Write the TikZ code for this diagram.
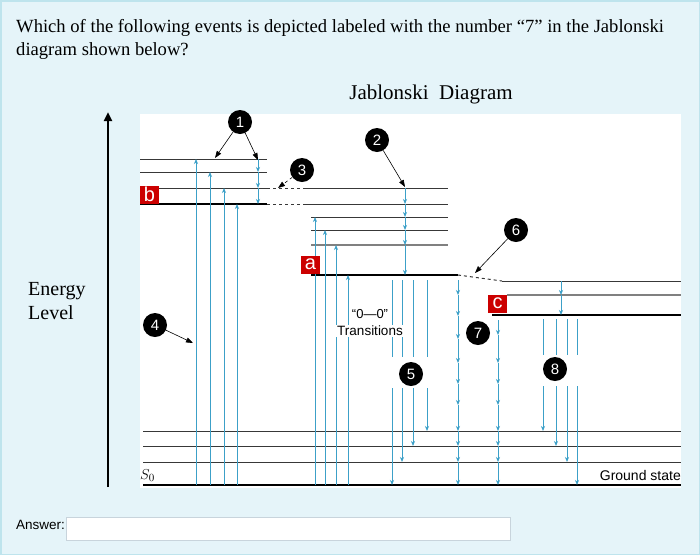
\documentclass[tikz,border=0pt]{standalone}
\usepackage{fontspec}
\setmainfont{Liberation Serif}
\setsansfont{Liberation Sans}
\usepackage{tikz}
\usetikzlibrary{arrows.meta,positioning}
\definecolor{pagebg}{RGB}{229,244,249}
\definecolor{pageline}{RGB}{190,228,237}
\definecolor{photon}{RGB}{60,160,200}
\definecolor{tagred}{RGB}{204,0,0}
\definecolor{boxline}{RGB}{200,212,220}

\begin{document}
\begin{tikzpicture}[x=1pt,y=-1pt,
font=\sffamily,
level/.style={draw=black!78,line width=1pt},
faint/.style={draw=black!50,line width=1.1pt},
base/.style={draw=black,line width=1.7pt},
photonup/.style={photon,line width=0.8pt,-{Stealth[length=5pt,width=4pt,inset=1.5pt]}},
photondown/.style={photon,line width=0.8pt,-{Stealth[length=5pt,width=4pt,inset=1.5pt]}},
marker/.style={circle,fill=black,text=white,inner sep=0pt,minimum size=24pt,font=\sffamily\fontsize{15}{15}\selectfont},
tag/.style={fill=tagred,text=white,inner sep=0pt,minimum width=19pt,minimum height=18pt,font=\sffamily\fontsize{20}{20}\selectfont},
callout/.style={-{Triangle[length=7pt,width=5pt]},line width=0.6pt},
scale=1]
    % page and diagram area
    \useasboundingbox (0,0) rectangle (700,555);
    \fill[pagebg,draw=pageline,line width=1.5pt] (0.75,0.75) rectangle (699.25,554.25);
    \fill[white] (140,114) rectangle (681,488);

    % question
    \node (q1) [anchor=base west,inner sep=0pt,font=\rmfamily\fontsize{18.6}{20}\selectfont] at (16,32)
        {Which of the following events is depicted labeled with the number “7” in the Jablonski};
    \node (q2) [anchor=base west,inner sep=0pt,font=\rmfamily\fontsize{18.6}{20}\selectfont] at (16,55)
        {diagram shown below?};
    \node (title) [font=\rmfamily\fontsize{21}{21}\selectfont] at (431,94) {Jablonski\ \ Diagram};

    % energy axis
    \coordinate (ebot) at (108,487);
    \coordinate (etop) at (108,112);
    \draw[-{Triangle[length=9pt,width=8pt]},line width=2.3pt] (ebot) -- (etop);
    \node (energy) [anchor=west,align=left,inner sep=0pt,font=\rmfamily\fontsize{20}{24}\selectfont] at (28,301) {Energy\\Level};

    % levels, left group
    \draw[level] (140,159) -- (267,159);
    \draw[level] (140,172) -- (267,172);
    \draw[level] (140,188) -- (267,188);
    \draw[base] (140,204) -- (267,204);
    \draw[level,dashed] (267,188) -- (305,188);
    \draw[level,dashed] (267,204) -- (305,204);
    % levels, middle group
    \draw[level] (305,188) -- (448,188);
    \draw[level] (305,204) -- (448,204);
    \draw[level] (311,217) -- (448,217);
    \draw[level] (311,230) -- (448,230);
    \draw[faint] (311,245) -- (448,245);
    \draw[base] (311,275) -- (458,275);
    \draw[level,dashed] (458,275) -- (502,281);
    % levels, right group
    \draw[level] (502,281) -- (681,281);
    \draw[faint] (507,295) -- (681,295);
    \draw[base] (492,315) -- (681,315);
    % ground levels
    \foreach \y in {431,446,462}
        \draw[level] (143,\y) -- (681,\y);
    \draw[base] (143,485) -- (681,485);

    % absorption
    \foreach \x/\y in {196/159,210/172,224/188,237/204,315/217,325/230,336/245,348/275}
        \draw[photonup] (\x,485) -- (\x,\y);

    % relaxation steps
    \foreach \a/\b in {159/172,172/188,188/204}
        \draw[photondown] (258,\a) -- (258,\b);
    \foreach \a/\b in {188/204,204/217,217/230,230/245,245/275}
        \draw[photondown] (405,\a) -- (405,\b);
    \foreach \a/\b in {281/295,295/315}
        \draw[photondown] (561,\a) -- (561,\b);
    \foreach \a/\b in {280/295,295/316,316/339,339/363,363/384,384/405,405/431,431/446,446/462,462/485}
        \draw[photondown] (458,\a) -- (458,\b);
    \foreach \a/\b in {320/335,335/363,363/384,384/405,405/431,431/446,446/462,462/485}
        \draw[photondown] (498,\a) -- (498,\b);

    % emission from a
    \foreach \x/\y in {392/485,402/462,413/446,427/431}{
        \draw[photon,line width=0.8pt] (\x,280) -- (\x,357);
        \draw[photondown] (\x,388) -- (\x,\y);
    }
    % emission from c
    \foreach \x/\y in {543/431,556/446,567/462,577/485}{
        \draw[photon,line width=0.8pt] (\x,319) -- (\x,355);
        \draw[photondown] (\x,386) -- (\x,\y);
    }

    % texts inside
    \node (zz) [fill=white,inner sep=1pt,font=\sffamily\fontsize{13}{13}\selectfont] at (370,314) {“0—0”};
    \node (trans) [fill=white,inner sep=1pt,font=\sffamily\fontsize{13.5}{13.5}\selectfont] at (370,331) {Transitions};
    \node (ground) [anchor=base east,inner sep=0pt,font=\sffamily\fontsize{14}{14}\selectfont] at (681,480) {Ground state};
    \node (s0) [anchor=base west,inner sep=0pt,font=\fontsize{15}{15}\selectfont] at (140,479) {$S_0$};

    % state tags
    \node (b) [tag] at (149.5,194.5) {b};
    \node (a) [tag] at (310.5,264.5) {a};
    \node (c) [tag] at (497.5,303.5) {c};

    % numbered markers
    \node (m1) [marker] at (240,122) {1};
    \node (m2) [marker] at (377,140) {2};
    \node (m3) [marker] at (302,170) {3};
    \node (m4) [marker] at (155,325) {4};
    \node (m5) [marker] at (411,374) {5};
    \node (m6) [marker] at (516,230) {6};
    \node (m7) [marker] at (478,333) {7};
    \node (m8) [marker] at (555,369) {8};

    \coordinate (t1a) at (215,158);
    \coordinate (t1b) at (258,160);
    \coordinate (t2) at (405,187);
    \coordinate (t3) at (278,188);
    \coordinate (t4) at (193,343);
    \coordinate (t6) at (475,273);
    \draw[callout] (m1) -- (t1a);
    \draw[callout] (m1) -- (t1b);
    \draw[callout] (m2) -- (t2);
    \draw[callout,dashed] (m3) -- (t3);
    \draw[callout] (m4) -- (t4);
    \draw[callout] (m6) -- (t6);

    % answer field
    \node (ans) [anchor=west,inner sep=0pt,font=\sffamily\fontsize{13.5}{13.5}\selectfont] at (16,525) {Answer:};
    \draw[boxline,fill=white,line width=0.8pt] (66,517) rectangle (510,540);
\end{tikzpicture}
\end{document}
